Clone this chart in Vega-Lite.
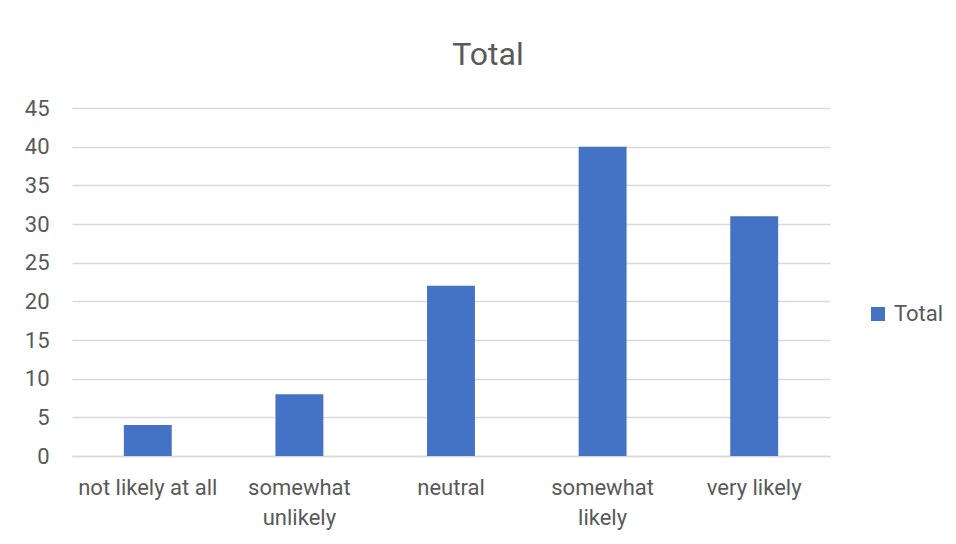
{
  "$schema": "https://vega.github.io/schema/vega-lite/v6.json",
  "width": 758,
  "height": 348,
  "autosize": {"type": "none"},
  "padding": {"left": 72, "top": 108, "right": 126, "bottom": 88},
  "background": "white",
  "title": {
    "text": "Total",
    "fontSize": 32,
    "font": "Roboto",
    "fontWeight": "normal",
    "color": "#595959",
    "anchor": "middle",
    "dx": 37,
    "offset": 0,
    "baseline": "alphabetic"
  },
  "data": {
    "values": [
      {"category": "not likely at all", "value": 4, "series": "Total"},
      {"category": "somewhat unlikely", "value": 8, "series": "Total"},
      {"category": "neutral", "value": 22, "series": "Total"},
      {"category": "somewhat likely", "value": 40, "series": "Total"},
      {"category": "very likely", "value": 31, "series": "Total"}
    ]
  },
  "mark": {"type": "bar"},
  "encoding": {
    "x": {
      "field": "category",
      "type": "nominal",
      "sort": null,
      "scale": {"paddingInner": 0.684, "paddingOuter": 0.342},
      "axis": {
        "title": null,
        "labelAngle": 0,
        "ticks": false,
        "domain": true,
        "domainColor": "#d9d9d9",
        "domainWidth": 1.5,
        "labelFont": "Roboto",
        "labelFontSize": 22,
        "labelColor": "#595959",
        "labelPadding": 21,
        "labelLineHeight": 30,
        "labelBaseline": "top",
        "labelExpr": "indexof(datum.label,'somewhat')==0 ? ['somewhat', substring(datum.label, 9)] : datum.label"
      }
    },
    "y": {
      "field": "value",
      "type": "quantitative",
      "scale": {"domain": [0, 45], "nice": false},
      "axis": {
        "title": null,
        "values": [0, 5, 10, 15, 20, 25, 30, 35, 40, 45],
        "ticks": false,
        "domain": false,
        "grid": true,
        "gridColor": "#d9d9d9",
        "gridWidth": 1.5,
        "labelFont": "Roboto",
        "labelFontSize": 22,
        "labelColor": "#595959",
        "labelPadding": 23
      }
    },
    "color": {
      "field": "series",
      "type": "nominal",
      "scale": {"range": ["#4472C4"]},
      "legend": {
        "title": null,
        "orient": "none",
        "legendX": 795,
        "legendY": 195,
        "symbolType": "square",
        "symbolSize": 196,
        "symbolStrokeWidth": 0,
        "labelFont": "Roboto",
        "labelFontSize": 22,
        "labelColor": "#595959",
        "labelOffset": 5,
        "padding": 0
      }
    }
  },
  "config": {
    "view": {"stroke": null}
  }
}
